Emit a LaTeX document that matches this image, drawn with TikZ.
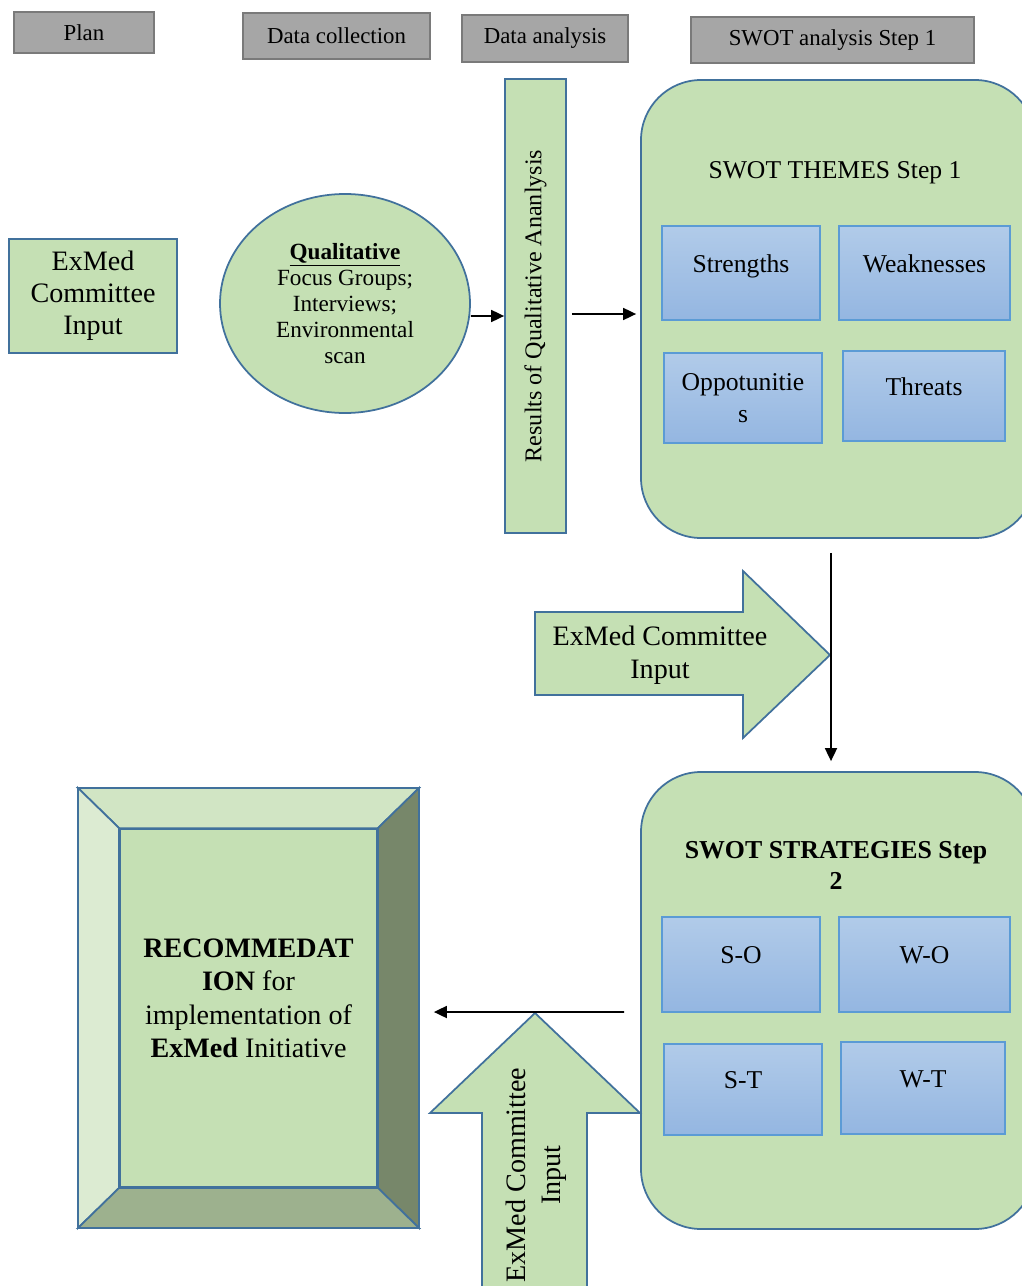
\documentclass[tikz,border=0pt]{standalone}
\usepackage{fontspec}
\setmainfont{Liberation Serif}
\usetikzlibrary{arrows.meta,shapes.geometric}
\definecolor{boxgreen}{HTML}{C5E0B4}
\definecolor{boxedge}{HTML}{41719C}
\definecolor{headgray}{HTML}{A6A6A6}
\definecolor{headedge}{HTML}{7A7A7A}
\definecolor{celltop}{HTML}{B1CBE9}
\definecolor{cellbottom}{HTML}{94B6E1}
\definecolor{celledge}{HTML}{5B9BD5}
\definecolor{bevelleft}{HTML}{DCEBD2}
\definecolor{beveltop}{HTML}{D1E5C4}
\definecolor{bevelright}{HTML}{77876A}
\definecolor{bevelbottom}{HTML}{9DB18E}

\begin{document}
\begin{tikzpicture}[>={Triangle[length=0.26cm,width=0.24cm]}]
			\tikzstyle{every edge}=[draw,line width=1pt]
			\tikzstyle{header}=[draw=headedge,fill=headgray,line width=1pt,inner sep=0pt,font=\fontsize{13}{15}\selectfont]
			\tikzstyle{greenbox}=[draw=boxedge,fill=boxgreen,line width=1pt,inner sep=0pt]
			\tikzstyle{cellbox}=[draw=celledge,line width=0.8pt,top color=celltop,bottom color=cellbottom,inner sep=0pt,align=center,font=\fontsize{14.6}{18}\selectfont]
			\tikzstyle{cell}=[cellbox,text height=10pt,text depth=11pt]

			\useasboundingbox (0,0) rectangle (20.44,-25.72);
			\clip (0,0) rectangle (20.44,-25.72);

			\node (plan) at (1.68,-0.65) [header, minimum width=2.8cm, minimum height=0.82cm] {Plan};
			\node (collect) at (6.73,-0.72) [header, minimum width=3.74cm, minimum height=0.92cm] {Data collection};
			\node (analysis) at (10.9,-0.77) [header, minimum width=3.32cm, minimum height=0.94cm] {Data analysis};
			\node (swotstep) at (16.65,-0.8) [header, minimum width=5.66cm, minimum height=0.92cm] {SWOT analysis Step 1};

			\node (committee) at (1.86,-5.92) [greenbox, minimum width=3.36cm, minimum height=2.28cm, align=center, font=\fontsize{16}{18.2}\selectfont] {ExMed\\Committee\\Input};
			\node (qual) at (6.9,-6.07) [ellipse, greenbox, minimum width=5cm, minimum height=4.38cm, align=center, font=\fontsize{13.2}{14.8}\selectfont] {\underline{\textbf{Qualitative}}\\Focus Groups;\\Interviews;\\Environmental\\scan};
			\node (results) at (10.71,-6.12) [greenbox, minimum width=1.22cm, minimum height=9.08cm, font=\fontsize{13.7}{16}\selectfont] {\rotatebox{90}{Results of Qualitative Ananlysis}};

			\node (themes) at (16.76,-6.18) [greenbox, rounded corners=1.2cm, minimum width=7.88cm, minimum height=9.16cm] {};
			\node (themestitle) at (16.7,-3.46) [font=\fontsize{14.6}{17}\selectfont] {SWOT THEMES Step 1};
			\node (strengths) at (14.82,-5.46) [cell, minimum width=3.16cm, minimum height=1.88cm] {Strengths};
			\node (weak) at (18.49,-5.46) [cell, minimum width=3.42cm, minimum height=1.88cm] {Weaknesses};
			\node (opport) at (14.86,-7.96) [cellbox, minimum width=3.16cm, minimum height=1.8cm] {Oppotunitie\\s};
			\node (threats) at (18.48,-7.92) [cell, minimum width=3.24cm, minimum height=1.8cm] {Threats};

			\path [->] ([yshift=-0.25cm]qual.east) edge ([yshift=-0.2cm]results.west);
			\path [->] ([xshift=0.1cm,yshift=-0.16cm]results.east) edge ([xshift=-0.08cm,yshift=-0.1cm]themes.west);

			\draw [greenbox] (10.7,-12.24) -- (14.86,-12.24) -- (14.86,-11.42) -- (16.6,-13.1) -- (14.86,-14.76) -- (14.86,-13.9) -- (10.7,-13.9) -- cycle;
			\node (rightinput) at (13.2,-13.1) [align=center, font=\fontsize{16}{18.5}\selectfont] {ExMed Committee\\Input};

			\node (strat) at (16.76,-20.01) [greenbox, rounded corners=1.2cm, minimum width=7.88cm, minimum height=9.14cm] {};
			\node (strattitle) at (16.72,-17.31) [align=center, font=\bfseries\fontsize{14.7}{17.6}\selectfont] {SWOT STRATEGIES Step\\2};
			\node (so) at (14.82,-19.29) [cell, minimum width=3.16cm, minimum height=1.9cm] {S-O};
			\node (wo) at (18.49,-19.29) [cell, minimum width=3.42cm, minimum height=1.9cm] {W-O};
			\node (st) at (14.86,-21.79) [cell, minimum width=3.16cm, minimum height=1.82cm] {S-T};
			\node (wt) at (18.46,-21.76) [cell, minimum width=3.28cm, minimum height=1.84cm] {W-T};

			\path [->] ([xshift=-0.14cm,yshift=-0.28cm]themes.south) edge ([xshift=-0.14cm,yshift=0.2cm]strat.north);

			\draw [greenbox] (10.7,-20.26) -- (12.8,-22.26) -- (11.74,-22.26) -- (11.74,-26) -- (9.64,-26) -- (9.64,-22.26) -- (8.6,-22.26) -- cycle;
			\node (upinput) at (10.72,-23.5) [rotate=90, align=center, font=\fontsize{16}{20}\selectfont] {ExMed Committee\\Input};

			\node (rec) at (4.97,-20.16) [greenbox, minimum width=5.14cm, minimum height=7.16cm] {};
			\node (rectext) at (4.97,-19.97) [align=center, font=\fontsize{16}{19}\selectfont] {\textbf{RECOMMEDAT}\\\textbf{ION} for\\implementation of\\\textbf{ExMed} Initiative};
			\coordinate (outnw) at (1.56,-15.76);
			\coordinate (outne) at (8.38,-15.76);
			\coordinate (outse) at (8.38,-24.56);
			\coordinate (outsw) at (1.56,-24.56);
			\draw [draw=boxedge, line width=1pt, fill=beveltop] (outnw) -- (outne) -- (rec.north east) -- (rec.north west) -- cycle;
			\draw [draw=boxedge, line width=1pt, fill=bevelleft] (outnw) -- (rec.north west) -- (rec.south west) -- (outsw) -- cycle;
			\draw [draw=boxedge, line width=1pt, fill=bevelright] (outne) -- (outse) -- (rec.south east) -- (rec.north east) -- cycle;
			\draw [draw=boxedge, line width=1pt, fill=bevelbottom] (outsw) -- (rec.south west) -- (rec.south east) -- (outse) -- cycle;

			\path [->] ([xshift=-0.32cm,yshift=-0.23cm]strat.west) edge ([xshift=1.12cm,yshift=-0.08cm]rec.east);
		\end{tikzpicture}
\end{document}
